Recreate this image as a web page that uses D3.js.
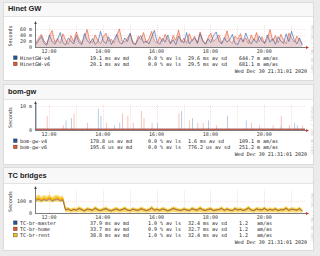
<!DOCTYPE html>
<html><head><meta charset="utf-8">
<script src="https://cdn.jsdelivr.net/npm/d3@7"></script>
<style>
html,body{margin:0;padding:0;background:#ebebeb;}
svg{display:block;}
text{white-space:pre;}
</style></head><body>
<svg id="c" width="320" height="256"></svg>
<script>
// ---------- data (one value per 6-minute slot, 11:31 .. 21:25) ----------
const hinetV4 = [8,22,35,12,6,40,18,9,25,48,14,7,30,20,10,38,15,8,45,22,12,28,9,16,52,20,11,34,8,24,42,15,10,30,18,46,12,8,26,38,14,20,10,33,55,18,9,28,16,40,12,24,8,36,20,14,48,10,22,30,12,44,18,9,27,15,38,50,20,10,32,16,24,42,12,8,30,18,46,22,10,26,14,36,20,12,40,16,28,9,34,20,12,44,18,52,24,10,30,6];
const hinetV6 = [14,30,42,20,10,36,55,16,28,12,44,24,9,38,18,50,26,12,32,58,20,14,40,22,10,34,46,18,26,12,38,60,20,15,30,44,16,10,36,24,48,14,28,52,20,12,34,18,42,26,10,38,22,56,16,30,12,44,20,36,14,50,24,10,32,46,18,28,40,14,22,54,20,12,36,26,44,16,30,10,40,22,48,18,34,12,28,58,20,38,14,42,24,10,46,30,16,36,22,12];
const bomV4Smoke = [11,0,0,0,0,0,0,0,0,0,0,4,0,5,0,0,0,0,0,0,0,0,0,9,6,0,0,0,0,2,0,3,0,0,0,0,0,0,0,0,0,0,0,0,0,3,0,0,0,0,0,0,0,0,8,0,0,0,5,0,0,0,0,0,4,0,0,0,0,0,0,6,0,0,0,0,0,0,4,0,0,0,0,0,0,0,0,0,0,0,0,2,0,0,0,0,3,2,0,0];
const bomV6Smoke = [0,0,0,0,6,0,0,0,0,0,2,0,0,0,7,0,0,0,0,3,0,0,0,0,0,0,3,0,0,0,0,0,7,0,6,0,3,0,0,8,5,0,0,3,0,0,0,0,0,0,0,0,0,7,0,0,0,4,0,0,3,0,3,0,0,0,0,2,0,0,0,0,0,0,0,0,0,0,0,0,3,0,0,2,0,0,0,0,2,0,0,6,0,0,2,0,0,0,0,2];
const bomMedian = [0.18, 0.20];
const tcSmokeHi = [140,152,135,148,138,155,132,146,150,136,144,
  44,52,36,48,40,58,46,34,50,44, 38,60,42,36,48,54,40,34,46,52, 38,44,56,40,36,50,42,38,54,46,
  36,42,62,40,48,38,52,46,34,42, 56,48,40,38,50,42,36,54,46,40, 60,42,38,46,52,36,42,44,56,38,
  50,40,36,54,42,48,38,44,62,40, 36,52,46,42,56,38,48,40,52,36, 44,42,58,38,50,46,40,54,30];
const tcSmokeLo = [88,92,85,95,90,96,86,92,94,88,90,
  4,8,3,6,5,9,4,2,7,5, 3,8,5,3,6,7,4,2,5,6, 3,5,8,4,3,6,5,3,7,5,
  3,4,9,4,6,3,7,5,2,4, 8,6,4,3,6,5,3,7,5,4, 9,4,3,5,7,3,4,5,8,3,
  6,4,3,7,5,6,3,5,9,4, 3,7,5,4,8,3,6,4,7,3, 5,4,8,3,6,5,4,7,2];
const tcRent = [118,126,112,124,115,130,110,122,127,114,121,
  28,36,22,32,26,40,30,20,34,30, 24,42,28,22,32,38,26,20,30,36, 24,30,40,26,22,34,28,24,38,30,
  22,28,44,26,32,24,36,30,20,28, 40,32,26,24,34,28,22,38,30,26, 42,28,24,32,36,22,28,30,40,24,
  34,26,22,38,28,32,24,30,44,26, 22,36,30,28,40,24,32,26,36,22, 30,28,42,24,34,30,26,38,18];
const tcHome = [108,116,104,114,106,120,102,112,117,106,111,
  24,30,20,28,22,34,26,18,30,26, 20,36,24,18,28,32,22,18,26,30, 20,26,34,22,18,30,24,20,32,26,
  18,24,38,22,28,20,30,26,18,24, 34,28,22,20,30,24,18,32,26,22, 36,24,20,28,30,18,24,26,34,20,
  30,22,18,32,24,28,20,26,38,22, 18,30,26,24,34,20,28,22,30,18, 26,24,36,20,30,26,22,32,16];
const tcMaster = [104,110,100,108,102,114,98,106,111,100,105,
  26,34,18,30,24,38,28,16,32,28, 22,40,26,20,30,36,24,16,28,34, 22,28,38,24,20,32,26,22,36,28,
  20,26,42,24,30,22,34,28,18,26, 38,30,24,22,32,26,20,36,28,24, 40,26,22,30,34,20,26,28,38,22,
  32,24,20,36,26,30,22,28,42,24, 20,34,28,26,38,22,30,24,34,20, 28,26,40,22,32,28,24,36,14];
const timeTicks = ["12:00","14:00","16:00","18:00","20:00"];
const hinetTicks = [0,20,40,60];
const bomTicks = [0,10];
const tcTicks = [0,100];
const hinetNames = ["HinetGW-v4","HinetGW-v6"];
const hinetStats = [["19.1 ms av md","0.0 % av ls","29.6 ms av sd","644.7 m am/as"],["20.1 ms av md","0.0 % av ls","29.5 ms av sd","681.1 m am/as"]];
const bomNames = ["bom-gw-v4","bom-gw-v6"];
const bomStats = [["178.8 us av md","0.0 % av ls","1.6 ms av sd","109.1 m am/as"],["195.6 us av md","0.0 % av ls","776.2 us av sd","251.2 m am/as"]];
const tcNames = ["TC-br-master","TC-br-home","TC-br-rent"];
const tcStats = [["37.9 ms av md","1.0 % av ls","32.4 ms av sd","1.2   am/as"],["33.7 ms av md","0.9 % av ls","32.7 ms av sd","1.2   am/as"],["38.8 ms av md","1.0 % av ls","32.4 ms av sd","1.2   am/as"]];
const stamp = "Wed Dec 30 21:31:01 2020";

// ---------- drawing ----------
const svg = d3.select("#c");
const MONO = "'DejaVu Sans Mono', monospace";
const t0 = new Date(2020,11,30,11,31), t1 = new Date(2020,11,30,21,31);
const slotTime = i => new Date(t0.getTime() + i*6*60000);
const x = d3.scaleTime().domain([t0,t1]).range([36,305]);
const C = {blue:"#24549c", red:"#e4532c", yellow:"#f3c51a"};
const L = {blue:"#b4c3e2", red:"#f6bcae", yellow:"#f8df86"};
const colX = [90,148,188,239];

function panel(cfg){
  const g = svg.append("g");
  g.append("rect").attr("x",3.5).attr("y",cfg.top+0.5).attr("width",310).attr("height",cfg.bottom-cfg.top)
    .attr("fill","#fff").attr("stroke","#dcdcdc");
  g.append("rect").attr("x",4).attr("y",cfg.top+1).attr("width",309).attr("height",cfg.hdr-cfg.top-1).attr("fill","#f8f8f8");
  g.append("line").attr("x1",4).attr("x2",313).attr("y1",cfg.hdr+0.5).attr("y2",cfg.hdr+0.5).attr("stroke","#e4e4e4");
  g.append("text").attr("x",8).attr("y",cfg.hdr-5).attr("font-family","'Liberation Sans', Arial, sans-serif")
    .attr("font-weight","bold").attr("font-size",7.4).attr("fill","#222").text(cfg.title);

  const y = d3.scaleLinear().domain(cfg.ydom).range([cfg.base, cfg.ptop]);
  const hours = d3.timeHour.range(t0,t1);
  g.selectAll(".vg").data(hours).join("line")
    .attr("x1",d=>Math.round(x(d))+0.5).attr("x2",d=>Math.round(x(d))+0.5)
    .attr("y1",cfg.ptop).attr("y2",cfg.base)
    .attr("stroke", d=>d.getHours()%2===0?"#f4c4c4":"#f1e6e6").attr("stroke-width",0.6)
    .attr("stroke-dasharray", d=>d.getHours()%2===0?"1,1":null);
  g.selectAll(".hg").data(cfg.yticks.filter(v=>v>0)).join("line")
    .attr("x1",36).attr("x2",305).attr("y1",d=>Math.round(y(d))+0.5).attr("y2",d=>Math.round(y(d))+0.5)
    .attr("stroke","#f4cccc").attr("stroke-width",0.6).attr("stroke-dasharray","1,1");
  cfg.draw(g,y);
  g.append("line").attr("x1",35.5).attr("x2",35.5).attr("y1",cfg.base).attr("y2",cfg.ptop-2).attr("stroke","#444").attr("stroke-width",0.7);
  g.append("path").attr("d",`M34.2,${cfg.ptop-1}L35.5,${cfg.ptop-4}L36.8,${cfg.ptop-1}Z`).attr("fill","#444");
  g.append("line").attr("x1",35).attr("x2",307).attr("y1",cfg.base+0.5).attr("y2",cfg.base+0.5).attr("stroke","#444").attr("stroke-width",0.7);
  g.append("path").attr("d",`M306,${cfg.base-1}L309,${cfg.base+0.5}L306,${cfg.base+2}Z`).attr("fill","#c33");
  g.selectAll(".yl").data(cfg.yticks).join("text")
    .attr("x",32).attr("y",d=>y(d)+1.7).attr("text-anchor","end").attr("font-family",MONO).attr("font-size",5).attr("fill","#333")
    .text(d=>d===0?"0":d+" m");
  g.append("text").attr("transform",`translate(11.5,${(cfg.ptop+cfg.base)/2}) rotate(-90)`).attr("text-anchor","middle")
    .attr("font-family",MONO).attr("font-size",5).attr("fill","#333").text("Seconds");
  const xt = timeTicks.map(s=>new Date(2020,11,30,+s.slice(0,2),0));
  g.selectAll(".xl").data(xt).join("text").attr("x",d=>x(d)).attr("y",cfg.base+5.5).attr("text-anchor","middle")
    .attr("font-family",MONO).attr("font-size",5).attr("fill","#333").text((d,i)=>timeTicks[i]);
  g.append("text").attr("transform",`translate(310.5,${(cfg.ptop+cfg.stampY)/2}) rotate(90)`).attr("text-anchor","middle")
    .attr("font-family",MONO).attr("font-size",3.6).attr("fill","#cccccc").text("RRDTOOL / TOBI OETIKER");
  cfg.names.forEach((n,i)=>{
    const ly = cfg.leg + i*6.2;
    g.append("rect").attr("x",13.5).attr("y",ly-3.6).attr("width",3.6).attr("height",3.6).attr("fill",cfg.colors[i]).attr("stroke","#333").attr("stroke-width",0.4);
    const tx = (xx,str)=>g.append("text").attr("x",xx).attr("y",ly).attr("font-family",MONO).attr("font-size",5).attr("fill","#222").text(str);
    tx(20,n);
    cfg.stats[i].forEach((s,k)=>tx(colX[k],s));
  });
  g.append("text").attr("x",307).attr("y",cfg.stampY).attr("text-anchor","end").attr("font-family",MONO).attr("font-size",5).attr("fill","#222").text(stamp);
}

const X = (d,i)=>x(slotTime(i));
function smokeLine(g,y,vals,col,light,op,w){
  g.append("path").datum(vals).attr("fill",light).attr("fill-opacity",op)
    .attr("d",d3.area().x(X).y0(y(0)).y1(d=>y(d)));
  g.append("path").datum(vals).attr("fill","none").attr("stroke",col).attr("stroke-width",w)
    .attr("d",d3.line().x(X).y(d=>y(d)));
}
function trace(g,y,vals,col,w){
  g.append("path").datum(vals).attr("fill","none").attr("stroke",col).attr("stroke-width",w).attr("stroke-linejoin","round")
    .attr("d",d3.line().x(X).y(d=>y(d)));
}

panel({title:"Hinet GW", top:2, hdr:16, bottom:80, ptop:25, base:47, ydom:[0,73], yticks:hinetTicks,
  leg:59.5, stampY:72.5, names:hinetNames, stats:hinetStats, colors:[C.blue,C.red],
  draw:(g,y)=>{ smokeLine(g,y,hinetV6,C.red,L.red,0.6,0.6); smokeLine(g,y,hinetV4,C.blue,L.blue,0.25,0.55); }});

panel({title:"bom-gw", top:84, hdr:99, bottom:164, ptop:105, base:130, ydom:[0,10.5], yticks:bomTicks,
  leg:142.5, stampY:155.5, names:bomNames, stats:bomStats, colors:[C.blue,C.red],
  draw:(g,y)=>{
    [[bomV4Smoke,"#a9bde0"],[bomV6Smoke,"#f3b5a8"]].forEach(([arr,col])=>{
      g.selectAll(null).data(arr.map((v,i)=>[i,v]).filter(d=>d[1]>0)).join("rect")
        .attr("x",d=>x(slotTime(d[0]))).attr("width",0.8).attr("y",d=>y(d[1])).attr("height",d=>y(0)-y(d[1])).attr("fill",col);
    });
    bomMedian.forEach((m,i)=>g.append("line").attr("x1",36).attr("x2",305).attr("y1",y(m)-0.3).attr("y2",y(m)-0.3)
      .attr("stroke",i?C.red:C.blue).attr("stroke-width",1.1));
  }});

panel({title:"TC bridges", top:167, hdr:183, bottom:250, ptop:190, base:213, ydom:[0,190], yticks:tcTicks,
  leg:224.5, stampY:243.5, names:tcNames, stats:tcStats, colors:[C.blue,C.red,C.yellow],
  draw:(g,y)=>{
    g.append("path").datum(tcSmokeHi).attr("fill","#f8da70")
      .attr("d",d3.area().x(X).y0((d,i)=>y(tcSmokeLo[i])).y1(d=>y(d)));
    trace(g,y,tcRent,"#f0b800",1.3);
    trace(g,y,tcHome,"#e8652e",0.7);
    trace(g,y,tcMaster,"#3a5aa0",0.45);
  }});
</script>
</body></html>
